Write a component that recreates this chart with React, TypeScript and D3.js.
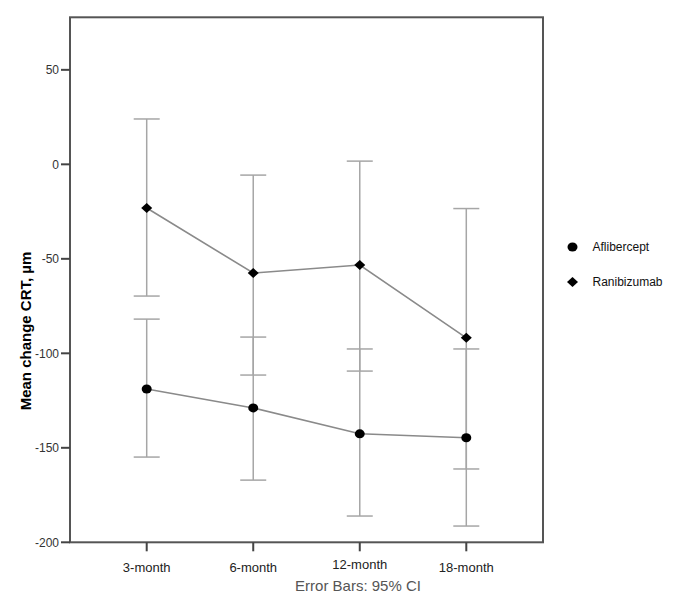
import React from "react";
import * as d3 from "d3";

const categories = ["3-month", "6-month", "12-month", "18-month"];
const afliberceptMean = [-118.9, -128.9, -142.6, -144.7];
const afliberceptLow = [-154.9, -167.1, -186.1, -191.4];
const afliberceptHigh = [-81.9, -91.4, -97.7, -97.7];
const ranibizumabMean = [-23.1, -57.5, -53.3, -91.8];
const ranibizumabLow = [-69.7, -111.5, -109.4, -161.2];
const ranibizumabHigh = [24, -5.7, 1.7, -23.4];
const yTicks = [50, 0, -50, -100, -150, -200];

const W = 689;
const H = 607;
const left = 70;
const right = 543;
const top = 17.3;
const bottom = 542.3;

export default function App() {
  const x = d3.scalePoint<string>().domain(categories).range([left, right]).padding(0.72);
  const y = d3.scaleLinear().domain([-200, 77.8]).range([bottom, top]);
  const line = d3
    .line<number>()
    .x((_, i) => x(categories[i]) as number)
    .y((d) => y(d));

  const series = [
    { name: "Aflibercept", mean: afliberceptMean, low: afliberceptLow, high: afliberceptHigh, shape: "circle" },
    { name: "Ranibizumab", mean: ranibizumabMean, low: ranibizumabLow, high: ranibizumabHigh, shape: "diamond" },
  ];

  const marker = (shape: string, cx: number, cy: number, key: string) =>
    shape === "circle" ? (
      <ellipse key={key} cx={cx} cy={cy} rx={5} ry={4.5} fill="#000" />
    ) : (
      <path
        key={key}
        d={`M${cx - 5.5},${cy} L${cx},${cy - 5} L${cx + 5.5},${cy} L${cx},${cy + 5} Z`}
        fill="#000"
      />
    );

  const font = "Arial, 'Liberation Sans', sans-serif";

  return (
    <svg
      width={W}
      height={H}
      style={{ position: "absolute", left: 0, top: 0, background: "#fff" }}
      fontFamily={font}
    >
      <rect x={0} y={0} width={W} height={H} fill="#fff" />
      {/* error bars */}
      {series.map((s) =>
        categories.map((c, i) => {
          const cx = x(c) as number;
          return (
            <g key={s.name + c} stroke="#a6a6a6" strokeWidth={1.5}>
              <line x1={cx} x2={cx} y1={y(s.low[i])} y2={y(s.high[i])} />
              <line x1={cx - 13} x2={cx + 13} y1={y(s.low[i])} y2={y(s.low[i])} />
              <line x1={cx - 13} x2={cx + 13} y1={y(s.high[i])} y2={y(s.high[i])} />
            </g>
          );
        })
      )}
      {/* lines */}
      {series.map((s) => (
        <path key={s.name + "line"} d={line(s.mean) || ""} fill="none" stroke="#8a8a8a" strokeWidth={1.6} />
      ))}
      {/* markers */}
      {series.map((s) =>
        s.mean.map((v, i) => marker(s.shape, x(categories[i]) as number, y(v), s.name + "m" + i))
      )}
      {/* frame */}
      <rect x={left} y={top} width={right - left} height={bottom - top} fill="none" stroke="#555" strokeWidth={2} />
      {/* y ticks */}
      {yTicks.map((t) => (
        <g key={"yt" + t}>
          <line x1={left - 9} x2={left} y1={y(t)} y2={y(t)} stroke="#444" strokeWidth={2} />
          <text x={left - 11} y={y(t) + 4.2} textAnchor="end" fontSize={12} fill="#333">
            {t}
          </text>
        </g>
      ))}
      {/* x ticks */}
      {categories.map((c) => (
        <g key={"xt" + c}>
          <line x1={x(c) as number} x2={x(c) as number} y1={bottom} y2={bottom + 9} stroke="#444" strokeWidth={2} />
          <text x={x(c) as number} y={c === "12-month" ? 569 : 572} textAnchor="middle" fontSize={13} fill="#222">
            {c}
          </text>
        </g>
      ))}
      <text x={358} y={590.5} textAnchor="middle" fontSize={15} fill="#555">
        Error Bars: 95% CI
      </text>
      <text
        transform={`translate(31, 331) rotate(-90)`}
        textAnchor="middle"
        fontSize={15}
        fontWeight="bold"
        fill="#000"
      >
        Mean change CRT, µm
      </text>
      {/* legend */}
      {series.map((s, i) => {
        const ly = 247 + i * 35;
        return (
          <g key={"lg" + s.name}>
            {marker(s.shape, 572.5, ly, "lgm" + i)}
            <text x={592.5} y={ly + 4.3} fontSize={12} fill="#111">
              {s.name}
            </text>
          </g>
        );
      })}
    </svg>
  );
}
